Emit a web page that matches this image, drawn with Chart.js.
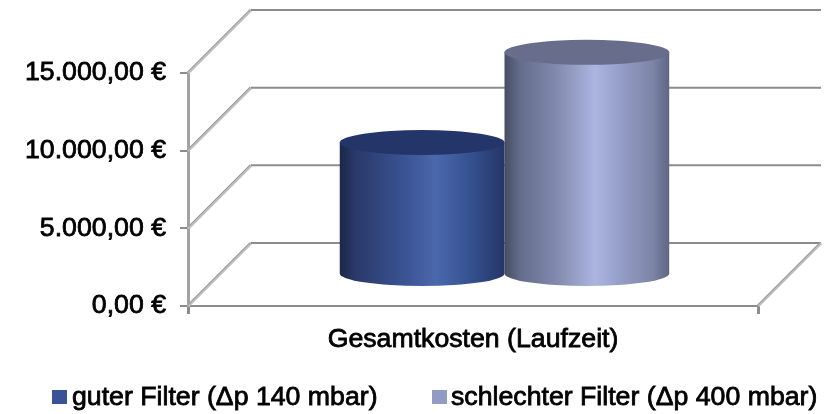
<!DOCTYPE html>
<html lang="de">
<head>
<meta charset="utf-8">
<title>Gesamtkosten (Laufzeit)</title>
<script src="https://cdn.jsdelivr.net/npm/chart.js@4/dist/chart.umd.min.js"></script>
<style>
html,body{margin:0;padding:0;background:#fff;}
#wrap{width:830px;height:414px;position:relative;}
canvas{display:block;}
</style>
</head>
<body>
<div id="wrap"><canvas id="c" width="830" height="414"></canvas></div>
<script>
const categories = ['Gesamtkosten (Laufzeit)'];
const guterFilter = [8500];
const schlechterFilter = [14300];
const seriesNames = ['guter Filter (Δp 140 mbar)', 'schlechter Filter (Δp 400 mbar)'];
const yTicks = [0, 5000, 10000, 15000];

const FONT = '"Liberation Sans", Arial, sans-serif';
const TEXT_SIZE = 26.7;
const TEXT_STROKE = 0.8;
const GRID = '#8c8c8c';
const DEPTH = 63;

const shades = [
  { top: '#24356a', stops: [[0,'#1b2747'],[0.1,'#2a3a6b'],[0.4,'#3a5494'],[0.58,'#4a68ac'],[0.8,'#34508e'],[1,'#243666']] },
  { top: '#696d8c', stops: [[0,'#474d63'],[0.1,'#656e8d'],[0.3,'#8087ab'],[0.55,'#abb5e0'],[0.75,'#8e97bf'],[0.9,'#7d84a5'],[1,'#5f6785']] }
];

function diagonal(ctx, x, y) {
  ctx.lineWidth = 3;
  ctx.strokeStyle = '#bcbcbc';
  ctx.beginPath();
  ctx.moveTo(x, y);
  ctx.lineTo(x + DEPTH, y - DEPTH);
  ctx.stroke();
  ctx.lineWidth = 1;
  ctx.strokeStyle = '#929292';
  ctx.beginPath();
  ctx.moveTo(x - 0.7, y - 0.7);
  ctx.lineTo(x + DEPTH - 0.7, y - DEPTH - 0.7);
  ctx.stroke();
}

// Floor and back wall of the 3D frame, positioned from the value scale
const frame3d = {
  id: 'frame3d',
  beforeDatasetsDraw(chart) {
    const { ctx, chartArea: a, scales: { y } } = chart;
    ctx.save();
    yTicks.forEach(v => {
      const py = y.getPixelForValue(v);
      diagonal(ctx, a.left, py);
      ctx.lineWidth = 2;
      ctx.strokeStyle = GRID;
      ctx.beginPath();
      ctx.moveTo(a.left + DEPTH, py - DEPTH);
      ctx.lineTo(a.right + DEPTH, py - DEPTH);
      ctx.stroke();
    });
    diagonal(ctx, a.right, y.getPixelForValue(0));
    ctx.restore();
  },
  // Each bar is painted as a shaded cylinder standing mid-depth on the floor
  beforeDatasetDraw(chart, args) {
    const { ctx } = chart;
    const shade = shades[args.index];
    chart.getDatasetMeta(args.index).data.forEach(bar => {
      const off = DEPTH / 2;
      const cx = bar.x + off, rx = bar.width / 2, ry = 12.5;
      const topY = bar.y - off, baseY = bar.base - off;
      const g = ctx.createLinearGradient(cx - rx, 0, cx + rx, 0);
      shade.stops.forEach(s => g.addColorStop(s[0], s[1]));
      ctx.save();
      ctx.fillStyle = g;
      ctx.beginPath();
      ctx.moveTo(cx - rx, topY);
      ctx.lineTo(cx - rx, baseY);
      ctx.ellipse(cx, baseY, rx, ry, 0, Math.PI, 0, true);
      ctx.lineTo(cx + rx, topY);
      ctx.closePath();
      ctx.fill();
      ctx.fillStyle = shade.top;
      ctx.beginPath();
      ctx.ellipse(cx, topY, rx, ry, 0, 0, Math.PI * 2);
      ctx.fill();
      ctx.restore();
    });
    return false;
  }
};

// Legend row with tight swatch-to-text spacing and slightly heavier text
const legendRow = {
  id: 'legendRow',
  afterDraw(chart) {
    const { ctx } = chart;
    const boxX = [52, 432], textX = [72, 451];
    ctx.save();
    ctx.font = TEXT_SIZE + 'px ' + FONT;
    ctx.textBaseline = 'alphabetic';
    chart.data.datasets.forEach((ds, i) => {
      ctx.fillStyle = ds.backgroundColor;
      ctx.fillRect(boxX[i], 390, 15, 14);
      ctx.fillStyle = '#000';
      ctx.strokeStyle = '#000';
      ctx.lineWidth = TEXT_STROKE;
      ctx.fillText(ds.label, textX[i], 405);
      ctx.strokeText(ds.label, textX[i], 405);
    });
    ctx.restore();
  }
};

new Chart(document.getElementById('c'), {
  type: 'bar',
  data: {
    labels: categories,
    datasets: [
      { label: seriesNames[0], data: guterFilter, backgroundColor: '#3a5396' },
      { label: seriesNames[1], data: schlechterFilter, backgroundColor: '#929bc3' }
    ]
  },
  options: {
    responsive: false,
    animation: false,
    layout: { padding: { top: 73, right: 72, left: 0, bottom: 0 } },
    datasets: { bar: { categoryPercentage: 0.578, barPercentage: 1 } },
    scales: {
      x: {
        afterFit(s) { s.height = 108; },
        grid: { drawOnChartArea: false, tickLength: 8, color: GRID, lineWidth: 3 },
        border: { color: GRID, width: 2 },
        ticks: { color: '#000', padding: 10, textStrokeColor: '#000', textStrokeWidth: TEXT_STROKE, font: { family: FONT, size: TEXT_SIZE } }
      },
      y: {
        min: 0, max: 15000,
        afterFit(s) { s.width = 188; },
        afterBuildTicks(s) { s.ticks = yTicks.map(value => ({ value })); },
        grid: { drawOnChartArea: false, tickLength: 8, color: GRID, lineWidth: 2 },
        border: { color: '#a2a2a2', width: 3 },
        ticks: {
          color: '#000', padding: 14,
          textStrokeColor: '#000', textStrokeWidth: TEXT_STROKE,
          font: { family: FONT, size: TEXT_SIZE },
          callback: v => v.toLocaleString('de-DE', { minimumFractionDigits: 2, maximumFractionDigits: 2 }) + ' €'
        }
      }
    },
    plugins: {
      title: { display: false },
      tooltip: { enabled: false },
      legend: { display: false }
    }
  },
  plugins: [frame3d, legendRow]
});
</script>
</body>
</html>
